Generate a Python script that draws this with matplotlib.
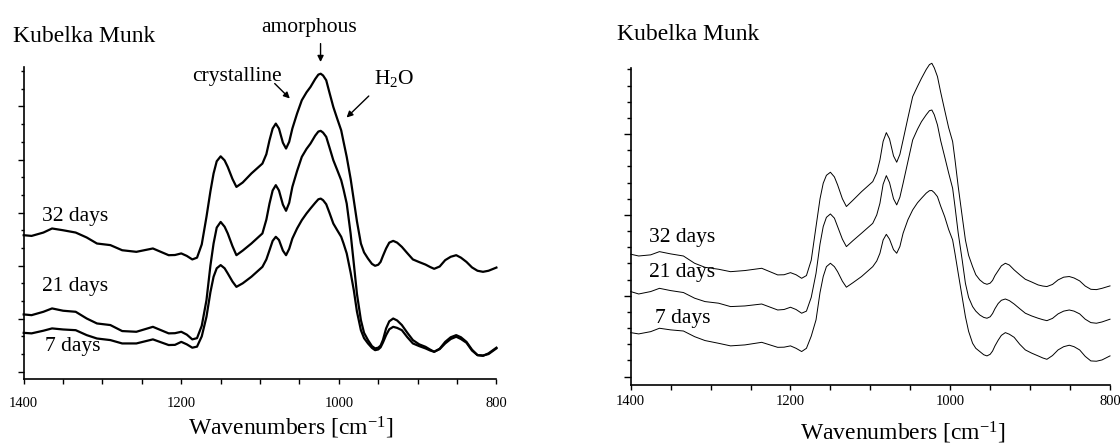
import numpy as np
import matplotlib
matplotlib.use("Agg")
import matplotlib.pyplot as plt
from matplotlib.ticker import MultipleLocator, FixedLocator

plt.rcParams['font.family'] = ['Liberation Serif', 'DejaVu Serif']
plt.rcParams['mathtext.fontset'] = 'custom'
plt.rcParams['mathtext.rm'] = 'Liberation Serif'
plt.rcParams['mathtext.it'] = 'Liberation Serif:italic'

# wavenumber grid [cm-1]
wavenumbers = [1400, 1390, 1375, 1364, 1350, 1334, 1320, 1307, 1290, 1275,
               1257, 1236, 1216, 1208, 1200, 1193, 1186, 1180, 1174, 1168,
               1163, 1159, 1155, 1150, 1145, 1141, 1135, 1130, 1122, 1111,
               1097, 1092, 1088, 1084, 1080, 1076, 1071, 1067, 1063, 1059,
               1053, 1047, 1041, 1036, 1030, 1026, 1023, 1020, 1016, 1012,
               1007, 1002, 997, 994, 990, 985, 981, 977, 972, 968,
               963, 958, 954, 950, 947, 944, 940, 936, 931, 926,
               920, 913, 906, 898, 890, 884, 879, 872, 865, 858,
               851, 845, 838, 831, 824, 817, 810, 800]

# left panel (arbitrary Kubelka Munk units)
left_32 = [7.72, 7.68, 7.87, 8.10, 8.00, 7.87, 7.59, 7.25, 7.16, 6.87,
           6.78, 6.97, 6.59, 6.60, 6.69, 6.55, 6.35, 6.45, 7.20, 8.76,
           10.20, 11.21, 11.90, 12.18, 11.95, 11.58, 10.90, 10.45, 10.70, 11.21,
           11.77, 12.30, 13.09, 13.75, 14.03, 13.75, 12.95, 12.62, 13.00, 13.75,
           14.60, 15.35, 15.80, 16.10, 16.55, 16.80, 16.85, 16.75, 16.48, 15.80,
           14.97, 14.30, 13.65, 13.00, 12.15, 10.90, 9.70, 8.50, 7.25, 6.75,
           6.40, 6.10, 5.99, 6.05, 6.21, 6.55, 6.97, 7.30, 7.40, 7.30,
           7.06, 6.70, 6.35, 6.20, 6.06, 5.92, 5.82, 5.95, 6.31, 6.50,
           6.59, 6.45, 6.21, 5.90, 5.71, 5.65, 5.71, 5.89]
left_21 = [3.24, 3.20, 3.39, 3.58, 3.45, 3.39, 3.01, 2.73, 2.64, 2.30,
           2.26, 2.54, 2.17, 2.18, 2.26, 2.10, 1.83, 1.90, 2.60, 4.05,
           6.00, 7.25, 8.15, 8.47, 8.20, 7.82, 7.10, 6.59, 6.85, 7.25,
           7.82, 8.60, 9.51, 10.25, 10.55, 10.25, 9.45, 9.10, 9.55, 10.45,
           11.35, 12.15, 12.60, 12.90, 13.35, 13.58, 13.62, 13.52, 13.28, 12.70,
           11.96, 11.40, 10.83, 10.30, 9.51, 7.80, 6.12, 4.40, 2.92, 2.20,
           1.79, 1.45, 1.32, 1.36, 1.48, 1.80, 2.45, 2.85, 3.01, 2.90,
           2.64, 2.20, 1.79, 1.55, 1.41, 1.25, 1.13, 1.30, 1.69, 1.95,
           2.07, 1.95, 1.69, 1.25, 0.94, 0.90, 1.04, 1.36]
left_7 = [2.20, 2.17, 2.32, 2.45, 2.39, 2.35, 2.07, 1.88, 1.79, 1.60,
          1.60, 1.83, 1.51, 1.52, 1.69, 1.55, 1.36, 1.42, 2.00, 3.11,
          4.50, 5.37, 5.85, 6.03, 5.85, 5.56, 5.10, 4.80, 5.00, 5.37,
          5.93, 6.35, 6.87, 7.40, 7.63, 7.45, 6.85, 6.59, 6.95, 7.53,
          8.10, 8.57, 8.95, 9.23, 9.55, 9.75, 9.79, 9.70, 9.47, 9.00,
          8.38, 8.00, 7.63, 7.25, 6.69, 5.60, 4.61, 3.40, 2.35, 1.90,
          1.60, 1.35, 1.22, 1.26, 1.38, 1.65, 2.07, 2.40, 2.54, 2.48,
          2.35, 1.95, 1.60, 1.45, 1.32, 1.20, 1.13, 1.28, 1.60, 1.85,
          1.98, 1.85, 1.64, 1.20, 0.94, 0.92, 1.00, 1.32]

# right panel
right_32 = [7.57, 7.46, 7.53, 7.73, 7.59, 7.46, 7.01, 6.76, 6.64, 6.49,
            6.56, 6.70, 6.29, 6.30, 6.43, 6.30, 6.08, 6.25, 7.20, 9.28,
            11.00, 11.96, 12.45, 12.64, 12.35, 11.86, 11.00, 10.52, 10.90, 11.44,
            12.06, 12.60, 13.40, 14.55, 15.09, 14.70, 13.65, 13.26, 13.75, 14.64,
            16.00, 17.32, 17.95, 18.45, 19.00, 19.30, 19.38, 19.10, 18.56, 17.60,
            16.49, 15.40, 14.54, 13.40, 11.75, 9.90, 8.45, 7.50, 6.80, 6.30,
            5.98, 5.78, 5.71, 5.78, 5.95, 6.25, 6.55, 6.85, 7.01, 6.90,
            6.60, 6.30, 6.02, 5.85, 5.67, 5.60, 5.57, 5.70, 5.98, 6.15,
            6.19, 6.10, 5.92, 5.60, 5.40, 5.38, 5.46, 5.61]
right_21 = [5.26, 5.11, 5.26, 5.46, 5.32, 5.20, 4.85, 4.64, 4.54, 4.33,
            4.37, 4.49, 4.12, 4.15, 4.29, 4.15, 3.92, 4.05, 4.90, 6.39,
            8.20, 9.28, 9.85, 10.06, 9.80, 9.28, 8.50, 8.04, 8.40, 8.87,
            9.48, 10.00, 10.72, 11.90, 12.43, 12.00, 11.00, 10.62, 11.10, 11.96,
            13.30, 14.64, 15.30, 15.77, 16.20, 16.45, 16.49, 16.20, 15.57, 14.60,
            13.61, 12.60, 11.65, 10.50, 8.87, 7.20, 5.77, 4.90, 4.33, 4.05,
            3.81, 3.66, 3.61, 3.70, 3.90, 4.20, 4.52, 4.72, 4.80, 4.70,
            4.49, 4.20, 3.92, 3.75, 3.61, 3.52, 3.46, 3.60, 3.88, 4.05,
            4.12, 4.05, 3.88, 3.55, 3.34, 3.30, 3.38, 3.55]
right_7 = [2.72, 2.64, 2.78, 2.99, 2.89, 2.82, 2.47, 2.23, 2.06, 1.90,
           1.96, 2.12, 1.81, 1.82, 1.90, 1.75, 1.55, 1.75, 2.50, 3.51,
           5.20, 6.19, 6.80, 7.01, 6.80, 6.49, 5.90, 5.53, 5.80, 6.19,
           6.80, 7.15, 7.63, 8.45, 8.80, 8.50, 7.85, 7.63, 8.05, 8.87,
           9.70, 10.31, 10.75, 11.03, 11.35, 11.50, 11.51, 11.38, 11.13, 10.55,
           9.90, 9.10, 8.45, 7.60, 6.39, 4.90, 3.71, 2.80, 2.06, 1.75,
           1.55, 1.35, 1.28, 1.38, 1.58, 1.90, 2.25, 2.55, 2.72, 2.62,
           2.43, 2.00, 1.65, 1.45, 1.28, 1.15, 1.07, 1.30, 1.65, 1.85,
           1.94, 1.85, 1.65, 1.25, 0.97, 0.95, 1.03, 1.28]

series_labels = ['32 days', '21 days', '7 days']
x_ticks = [1400, 1200, 1000, 800]

W, H = 1120, 445
fig = plt.figure(figsize=(W / 100, H / 100), dpi=100)


def px_axes(x0, x1, ytop, ybot):
    # place an axes from pixel coordinates (y measured from top)
    return fig.add_axes([x0 / W, 1 - ybot / H, (x1 - x0) / W, (ybot - ytop) / H])


def px_text(x, y, s, **kw):
    fig.text(x / W, 1 - y / H, s, **kw)


def style_axes(ax, ylim, major_step, ntick, lmaj, lmin, xpad):
    ax.set_xlim(1400, 800)
    ax.set_ylim(*ylim)
    ax.spines['top'].set_visible(False)
    ax.spines['right'].set_visible(False)
    for s in ('left', 'bottom'):
        ax.spines[s].set_linewidth(1.2)
    ax.xaxis.set_major_locator(FixedLocator(x_ticks))
    ax.xaxis.set_minor_locator(MultipleLocator(50))
    ax.set_xticklabels([str(t) for t in x_ticks])
    ax.yaxis.set_major_locator(FixedLocator(np.arange(0, ntick, major_step)))
    ax.yaxis.set_minor_locator(FixedLocator(np.arange(0, ntick, 1)))
    ax.set_yticklabels([])
    ax.tick_params(axis='x', which='both', direction='out', length=3.5,
                   width=1.0, labelsize=10.5, pad=xpad)
    ax.tick_params(axis='y', which='major', direction='out', length=lmaj, width=1.0)
    ax.tick_params(axis='y', which='minor', direction='out', length=lmin, width=1.0)


# ---- left panel
ax1 = px_axes(23.7, 496.4, 67, 379)
for ys in (left_32, left_21, left_7):
    ax1.plot(wavenumbers, ys, color='black', lw=1.6, clip_on=False,
             solid_joinstyle='round')
style_axes(ax1, (-0.41, 17.23), 3, 18, 4, 2.5, 9.5)

px_text(12.6, 36.7, 'Kubelka Munk', fontsize=17, ha='left', va='center')
px_text(290.7, 428, 'Wavenumbers [cm$^{-1}$]', fontsize=17, ha='center', va='center')
lab_pos = [(0.0395, 0.520), (0.0395, 0.296), (0.0448, 0.1035)]
for (tx, ty), lab in zip(lab_pos, series_labels):
    ax1.text(tx, ty, lab, transform=ax1.transAxes, fontsize=15.5, ha='left', va='center')

ax1.text(0.604, 1.128, 'amorphous', transform=ax1.transAxes, fontsize=15.5,
         ha='center', va='center')
ax1.text(0.451, 0.970, 'crystalline', transform=ax1.transAxes, fontsize=15.5,
         ha='center', va='center')
ax1.text(0.783, 0.963, 'H$_2$O', transform=ax1.transAxes, fontsize=15.5,
         ha='center', va='center')
arrow = dict(arrowstyle='-|>', color='black', lw=1.0, mutation_scale=9,
             shrinkA=0, shrinkB=0)
for (xa, ya), (xb, yb) in [((0.628, 1.075), (0.628, 1.016)),
                           ((0.531, 0.947), (0.563, 0.899)),
                           ((0.730, 0.907), (0.683, 0.838))]:
    ax1.annotate('', xy=(xb, yb), xytext=(xa, ya), xycoords='axes fraction',
                 textcoords='axes fraction', arrowprops=arrow)

# ---- right panel
ax2 = px_axes(630.7, 1110, 68.3, 385)
for ys in (right_32, right_21, right_7):
    ax2.plot(wavenumbers, ys, color='black', lw=0.7, clip_on=False,
             solid_joinstyle='round')
style_axes(ax2, (-0.52, 19.07), 5, 20, 5, 3, 4)

px_text(617.4, 35, 'Kubelka Munk', fontsize=17, ha='left', va='center')
px_text(902.8, 433, 'Wavenumbers [cm$^{-1}$]', fontsize=17, ha='center', va='center')
lab_pos = [(0.038, 0.465), (0.038, 0.355), (0.051, 0.21)]
for (tx, ty), lab in zip(lab_pos, series_labels):
    ax2.text(tx, ty, lab, transform=ax2.transAxes, fontsize=15.5, ha='left', va='center')

fig.savefig('out.png', dpi=100)
